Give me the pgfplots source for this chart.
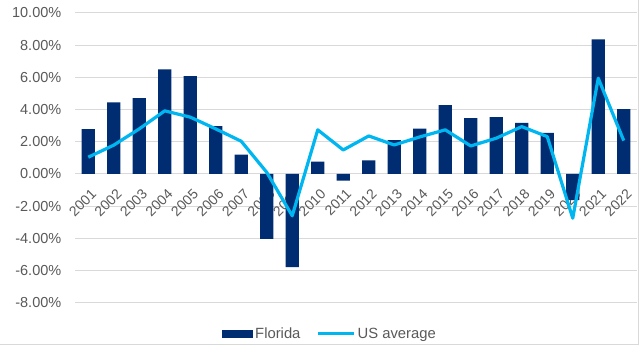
\documentclass[border=0pt]{standalone}
\usepackage{pgfplots}
\pgfplotsset{compat=1.18}
\usepackage{fontspec}
\setmainfont{Liberation Sans}
\definecolor{navy}{HTML}{002D72}
\definecolor{cyanline}{HTML}{00B6F0}
\definecolor{gridgray}{HTML}{D9D9D9}
\definecolor{txtgray}{HTML}{595959}
\begin{document}
\begin{tikzpicture}
\path[use as bounding box] (-75.5bp,-43bp) rectangle (564.5bp,302.7bp);
\draw[gridgray, line width=1bp] (-75.5bp,-42bp) -- (562.5bp,-42bp) -- (562.5bp,302.7bp);
\begin{axis}[
  at={(0,0)}, anchor=south west,
  scale only axis, width=561bp, height=289.7bp,
  xmin=-0.5, xmax=21.5, ymin=-8, ymax=10,
  xtick={0,...,21},
  xticklabels={2001,2002,2003,2004,2005,2006,2007,2008,2009,2010,2011,2012,2013,2014,2015,2016,2017,2018,2019,2020,2021,2022},
  ytick={-8,-6,...,10},
  axis x line*=middle,
  axis y line*=left,
  x axis line style={draw=gridgray, line width=1bp, -},
  y axis line style={draw=none},
  major tick length=0pt,
  ymajorgrids,
  grid style={gridgray, line width=1bp},
  /pgf/number format/assume math mode=true,
  yticklabel={\pgfmathprintnumber[fixed,fixed zerofill,precision=2]{\tick}\%},
  ticklabel style={text=txtgray},
  yticklabel style={font=\fontsize{14.5bp}{17bp}\selectfont, anchor=east, inner sep=0pt, xshift=-14bp},
  xticklabel style={font=\fontsize{14bp}{17bp}\selectfont, inner sep=0pt, xshift=5.5bp, yshift=-17.5bp, rotate=45, anchor=east},
  legend columns=2,
  legend style={draw=none, fill=none, at={(axis description cs:0.4537,-0.107)}, anchor=center,
    font=\fontsize{14.8bp}{17bp}\selectfont, text=txtgray,
    nodes={inner sep=2bp},
    /tikz/every even column/.append style={column sep=14bp}},
  clip=false,
]
\addplot[ybar, bar width=13.3bp, fill=navy, draw=none,
  legend image code/.code={\fill[navy] (0bp,-4bp) rectangle (31bp,4bp);}]
  coordinates {
  (0,2.78) (1,4.44) (2,4.71) (3,6.49) (4,6.08) (5,2.97) (6,1.20) (7,-4.03)
  (8,-5.79) (9,0.77) (10,-0.42) (11,0.85) (12,2.10) (13,2.82) (14,4.27)
  (15,3.47) (16,3.53) (17,3.17) (18,2.55) (19,-1.62) (20,8.36) (21,4.03)};
\addlegendentry{Florida}
\addplot[cyanline, line width=3.2bp, line join=round, mark=none,
  legend image code/.code={\draw[cyanline, line width=3.2bp] (0bp,0bp) -- (36bp,0bp);}]
  coordinates {
  (0,1.04) (1,1.79) (2,2.8) (3,3.92) (4,3.53) (5,2.8) (6,2.03) (7,0.1)
  (8,-2.6) (9,2.74) (10,1.49) (11,2.36) (12,1.80) (13,2.3) (14,2.74)
  (15,1.74) (16,2.22) (17,2.94) (18,2.32) (19,-2.75) (20,5.95) (21,2.07)};
\addlegendentry{US average}
\end{axis}
\end{tikzpicture}
\end{document}
